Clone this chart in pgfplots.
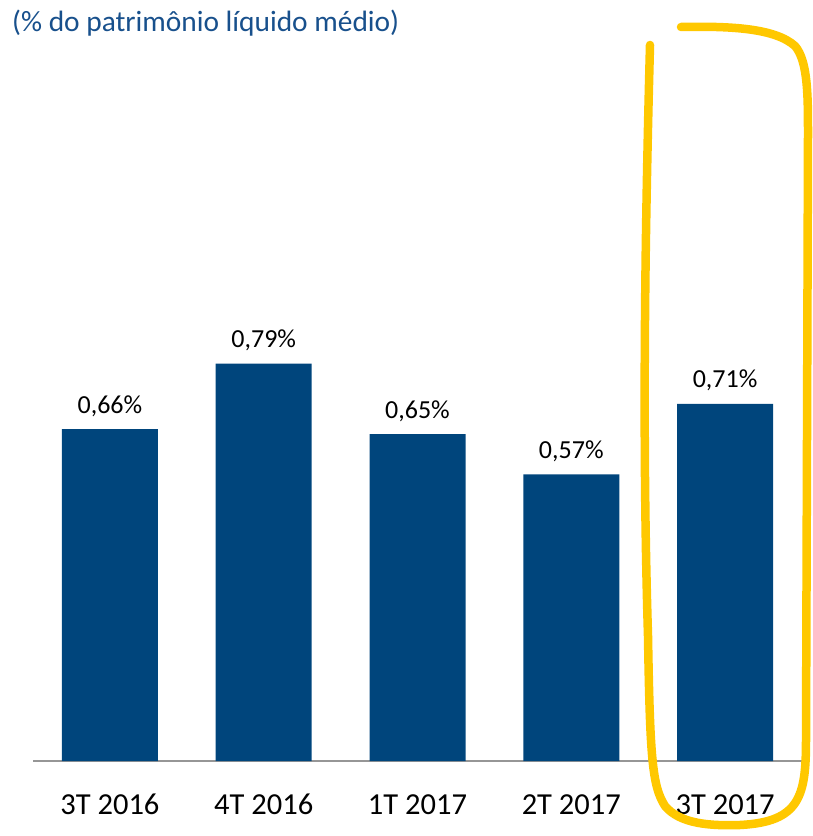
\documentclass[border=0pt]{standalone}
\usepackage{pgfplots}
\pgfplotsset{compat=1.18}
\usepackage{fontspec}
\setmainfont{Carlito}
\definecolor{barblue}{RGB}{0,69,124}
\definecolor{titleblue}{RGB}{24,80,140}
\definecolor{hlyellow}{RGB}{255,200,0}
\definecolor{axisgray}{RGB}{150,150,150}
\begin{document}
\begin{tikzpicture}[x=1pt,y=1pt]
\useasboundingbox (0,0) rectangle (812,836);
\node[anchor=base west, inner sep=0pt, text=titleblue, font=\fontsize{29.4}{33}\selectfont] at (12,804) {(\% do patrimônio líquido médio)};
\begin{axis}[
  at={(33pt,75pt)}, anchor=south west,
  scale only axis, width=769pt, height=503pt,
  xmin=-0.5, xmax=4.5, ymin=0, ymax=1,
  axis x line=bottom, axis y line=none,
  x axis line style={draw=axisgray, line width=1.2pt, -},
  xtick={0,1,2,3,4},
  xticklabels={3T 2016,4T 2016,1T 2017,2T 2017,3T 2017},
  major tick length=0pt,
  xticklabel style={anchor=base, yshift=-53pt, font=\fontsize{30.5}{34}\selectfont},
  ybar, bar width=96pt,
  nodes near coords={\pgfmathprintnumber[fixed,fixed zerofill,precision=2,use comma,assume math mode=true]{\pgfplotspointmeta}\%},
  every node near coord/.append style={anchor=base, yshift=16pt, font=\fontsize{26}{30}\selectfont, text=black},
  clip=false,
]
\addplot[fill=barblue, draw=none] coordinates {(0,0.66) (1,0.79) (2,0.65) (3,0.57) (4,0.71)};
\end{axis}
\draw[hlyellow, line width=8.5pt, line cap=round, line join=round]
  (681,809) .. controls (730,810) and (775,808) .. (795,790)
  .. controls (808,775) and (808,740) .. (808,700)
  -- (806,96)
  .. controls (806,40) and (800,14) .. (740,11)
  .. controls (710,10) and (680,12) .. (665,30)
  .. controls (652,50) and (650,80) .. (648,200)
  .. controls (642,400) and (645,600) .. (650,791);
\end{tikzpicture}
\end{document}
